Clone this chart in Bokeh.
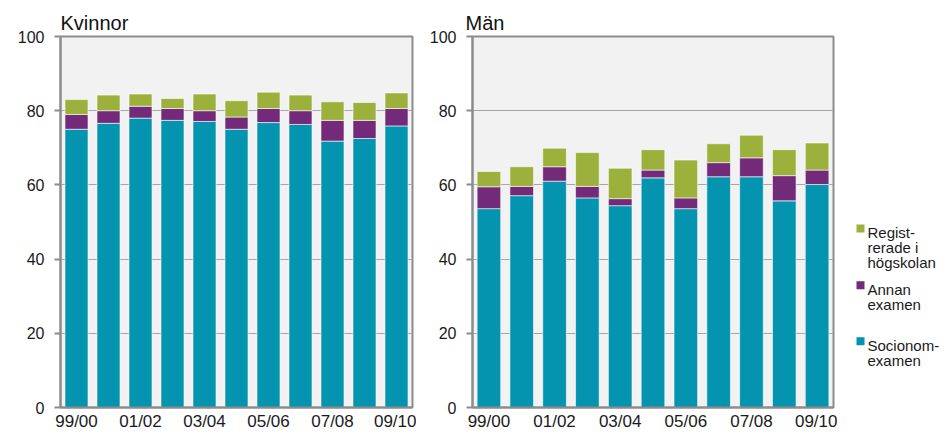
from bokeh.plotting import figure
from bokeh.models import ColumnDataSource, Range1d, FixedTicker
from bokeh.layouts import row
from bokeh.core.properties import value
from bokeh.embed import file_html
from bokeh.resources import INLINE

categories = ["99/00", "00/01", "01/02", "02/03", "03/04", "04/05",
              "05/06", "06/07", "07/08", "08/09", "09/10"]
tick_idx = [0, 2, 4, 6, 8, 10]
series = ["socionom", "annan", "reg"]
legend_labels = [["Regist-", "rerade i", "högskolan"], ["Annan", "examen"], ["Socionom-", "examen"]]

kv_socionom = [75.0, 76.6, 78.0, 77.4, 77.1, 75.0, 76.8, 76.3, 71.8, 72.5, 75.9]
kv_annan = [4.0, 3.4, 3.2, 3.2, 2.9, 3.3, 3.8, 3.7, 5.6, 4.9, 4.7]
kv_reg = [4.0, 4.2, 3.3, 2.7, 4.5, 4.4, 4.4, 4.2, 5.0, 4.8, 4.2]

man_socionom = [53.6, 57.1, 61.0, 56.5, 54.4, 61.9, 53.6, 62.2, 62.2, 55.7, 60.1]
man_annan = [5.9, 2.5, 3.9, 3.1, 1.9, 2.1, 2.9, 3.8, 5.1, 6.8, 3.9]
man_reg = [4.1, 5.3, 5.0, 9.1, 8.2, 5.5, 10.2, 5.1, 6.1, 7.0, 7.3]

y_ticks = [0, 20, 40, 60, 80, 100]

colors = ["#0494AF", "#732A79", "#9BB13C"]
FONT = "Liberation Sans"
GRAY = "#8C8C8C"
H = 434


def make_panel(title, soc, ann, reg, border_left, frame_w, border_top, frame_h, title_offset):
    src = ColumnDataSource(dict(x=list(range(len(categories))), socionom=soc, annan=ann, reg=reg))
    p = figure(width=border_left + frame_w + 4, height=H, output_backend="svg",
               toolbar_location=None, x_range=Range1d(-0.5, len(categories) - 0.5),
               y_range=Range1d(0, 100), min_border_left=border_left, min_border_right=4,
               min_border_top=border_top, min_border_bottom=H - border_top - frame_h)
    p.vbar_stack(series, x="x", width=0.72, source=src, color=colors,
                 line_color="white", line_alpha=0.6, line_width=1)
    p.title.text = title
    p.title.text_font = FONT
    p.title.text_font_size = "20px"
    p.title.text_font_style = "normal"
    p.title.text_color = "#111111"
    p.title.align = "left"
    p.title.offset = title_offset
    p.title.standoff = 5
    p.background_fill_color = "#F2F2F2"
    p.border_fill_color = "white"
    p.outline_line_color = GRAY
    p.outline_line_width = 2
    p.xgrid.visible = False
    p.ygrid.grid_line_color = "#A6A6A6"
    p.ygrid.grid_line_width = 1
    p.yaxis.ticker = FixedTicker(ticks=y_ticks)
    p.yaxis.minor_tick_line_color = None
    p.yaxis.major_tick_out = 6
    p.yaxis.major_tick_in = 0
    p.yaxis.major_tick_line_color = GRAY
    p.yaxis.major_tick_line_width = 2
    p.yaxis.axis_line_color = GRAY
    p.yaxis.axis_line_width = 2
    p.yaxis.major_label_standoff = 10
    p.yaxis.major_label_text_font_size = "16px"
    p.xaxis.ticker = FixedTicker(ticks=tick_idx)
    p.xaxis.major_label_overrides = {i: categories[i] for i in tick_idx}
    p.xaxis.minor_tick_line_color = None
    p.xaxis.major_tick_line_color = None
    p.xaxis.major_tick_out = 0
    p.xaxis.major_tick_in = 0
    p.xaxis.axis_line_color = GRAY
    p.xaxis.axis_line_width = 2
    p.xaxis.major_label_standoff = 4
    p.xaxis.major_label_text_font_size = "17px"
    for ax in (p.xaxis, p.yaxis):
        ax.major_label_text_font = FONT
        ax.major_label_text_color = "#1a1a1a"
    return p


p1 = make_panel("Kvinnor", kv_socionom, kv_annan, kv_reg, 60, 352, 34, 373, 0)
p2 = make_panel("Män", man_socionom, man_annan, man_reg, 56, 361, 36, 371, -7)

# legend panel (screen-like coordinates: y grows downward)
LW = 949 - p1.width - p2.width
lg = figure(width=LW, height=H, output_backend="svg", toolbar_location=None,
            x_range=Range1d(0, LW), y_range=Range1d(H, 0),
            x_axis_location=None, y_axis_location=None, min_border=0)
lg.grid.visible = False
lg.outline_line_color = None
lg.background_fill_color = "white"
order = [2, 1, 0]  # Registrerade, Annan, Socionom (top to bottom)
sq_y = [224.5, 291.0, 356.5]
tys, texts = [], []
for k, s_idx in enumerate(order):
    lines = legend_labels[k]
    lg.scatter(x=[23], y=[sq_y[k]], marker="square", size=8, color=colors[s_idx], line_color=None)
    for j, t in enumerate(lines):
        texts.append(t)
        tys.append(sq_y[k] + 5 + j * 17.3)
lg.text(x=[30] * len(texts), y=tys, text=texts, text_font=value(FONT),
        text_font_size="15px", text_baseline="alphabetic", text_align="left",
        text_color="#1a1a1a")

layout = row(p1, p2, lg)
open("out.html", "w").write(file_html(layout, INLINE))
